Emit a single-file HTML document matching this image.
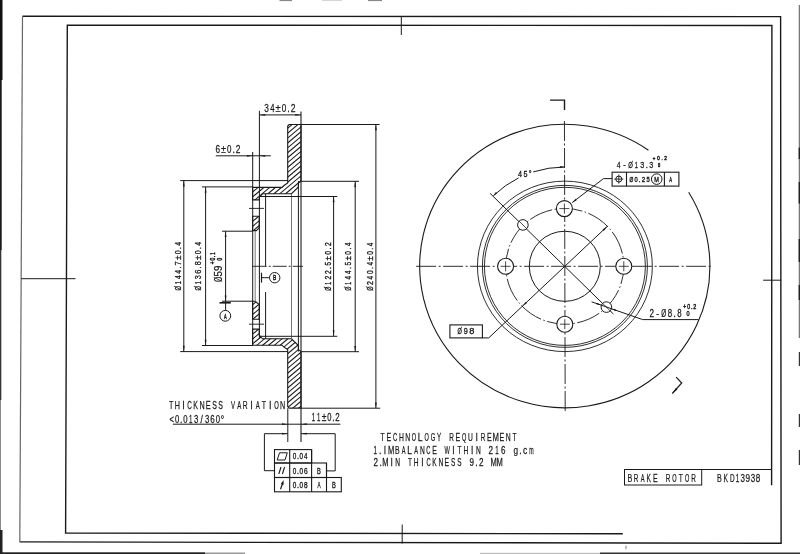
<!DOCTYPE html>
<html><head><meta charset="utf-8"><style>
html,body{margin:0;padding:0;background:#fff;}
svg{display:block;will-change:transform;}
text{font-family:"Liberation Sans",sans-serif;}
</style></head><body>
<svg width="800" height="554" viewBox="0 0 800 554">

<rect width="800" height="554" fill="#fff"/>
<polyline points="22.50,16.30 780.60,16.60 781.10,543.30 19.80,541.90" fill="none" stroke="#1a1a1a" stroke-width="1.4" />
<line x1="19.80" y1="541.90" x2="22.50" y2="16.30" stroke="#666" stroke-width="1.2" />
<polyline points="622.80,533.70 65.60,533.10 67.30,25.10 771.90,25.50 771.60,485.20" fill="none" stroke="#1a1a1a" stroke-width="1.4" />
<line x1="401.30" y1="16.50" x2="401.30" y2="35.00" stroke="#1a1a1a" stroke-width="1.0" />
<line x1="402.20" y1="524.50" x2="402.20" y2="543.50" stroke="#1a1a1a" stroke-width="1.0" />
<line x1="21.20" y1="278.70" x2="75.50" y2="278.70" stroke="#1a1a1a" stroke-width="1.0" />
<line x1="763.20" y1="280.20" x2="781.20" y2="280.20" stroke="#1a1a1a" stroke-width="1.0" />
<rect x="0" y="0" width="2.5" height="80" fill="#111"/>
<rect x="0" y="80" width="1.7" height="170" fill="#1a1a1a"/>
<rect x="0" y="250" width="1.3" height="150" fill="#333"/>
<rect x="0" y="400" width="1.0" height="130" fill="#888"/>
<rect x="0" y="530" width="2.5" height="24" fill="#222"/>
<rect x="0" y="552.3" width="205" height="1.7" fill="#222"/>
<rect x="205" y="552.5" width="40" height="1.5" fill="#999"/>
<rect x="480" y="552.8" width="120" height="1.2" fill="#bbb"/>
<rect x="600" y="552.5" width="200" height="1.5" fill="#333"/>
<rect x="798.8" y="5" width="1.0" height="333" fill="#555"/>
<rect x="798.6" y="147.6" width="1.4" height="11.4" fill="#222"/>
<rect x="798.6" y="182" width="1.4" height="21.6" fill="#222"/>
<rect x="798.6" y="239" width="1.4" height="23" fill="#222"/>
<rect x="798.6" y="285" width="1.4" height="15" fill="#222"/>
<rect x="798.8" y="352" width="1.2" height="14" fill="#333"/>
<rect x="798.8" y="414" width="1.2" height="13" fill="#333"/>
<rect x="798.8" y="450" width="1.2" height="15" fill="#333"/>
<line x1="626.00" y1="545.80" x2="626.00" y2="549.20" stroke="#555" stroke-width="0.8" />
<rect x="279.5" y="0" width="12.5" height="1.1" fill="#888"/>
<rect x="322" y="0" width="20" height="0.8" fill="#ccc"/>
<rect x="368" y="0" width="14" height="1.1" fill="#888"/>
<rect x="624.5" y="469.5" width="77.2" height="15.5" fill="none" stroke="#1a1a1a" stroke-width="1"/>
<line x1="701.70" y1="469.50" x2="771.90" y2="469.50" stroke="#1a1a1a" stroke-width="1.0" />
<g transform="translate(0,481.90)" font-size="11.05" fill="#1a1a1a" stroke="#1a1a1a" stroke-width="0.25"><text transform="translate(629.80,0) scale(0.646,1)" text-anchor="middle">B</text><text transform="translate(636.16,0) scale(0.579,1)" text-anchor="middle">R</text><text transform="translate(642.64,0) scale(0.519,1)" text-anchor="middle">A</text><text transform="translate(648.78,0) scale(0.600,1)" text-anchor="middle">K</text><text transform="translate(655.24,0) scale(0.635,1)" text-anchor="middle">E</text><text transform="translate(668.01,0) scale(0.579,1)" text-anchor="middle">R</text><text transform="translate(674.49,0) scale(0.504,1)" text-anchor="middle">O</text><text transform="translate(680.86,0) scale(0.608,1)" text-anchor="middle">T</text><text transform="translate(687.23,0) scale(0.504,1)" text-anchor="middle">O</text><text transform="translate(693.49,0) scale(0.579,1)" text-anchor="middle">R</text></g>
<g transform="translate(0,481.90)" font-size="11.05" fill="#1a1a1a" stroke="#1a1a1a" stroke-width="0.25"><text transform="translate(719.30,0) scale(0.646,1)" text-anchor="middle">B</text><text transform="translate(725.72,0) scale(0.600,1)" text-anchor="middle">K</text><text transform="translate(732.39,0) scale(0.581,1)" text-anchor="middle">D</text></g>
<g transform="translate(0,481.90)" font-size="11.05" fill="#1a1a1a" stroke="#1a1a1a" stroke-width="0.25"><text transform="translate(737.58,0) scale(0.574,1)" text-anchor="middle">1</text><text transform="translate(742.75,0) scale(0.726,1)" text-anchor="middle">3</text><text transform="translate(747.79,0) scale(0.745,1)" text-anchor="middle">9</text><text transform="translate(752.87,0) scale(0.726,1)" text-anchor="middle">3</text><text transform="translate(757.90,0) scale(0.733,1)" text-anchor="middle">8</text></g>
<g transform="translate(0,441.20)" font-size="11.05" fill="#1a1a1a" stroke="#1a1a1a" stroke-width="0.25"><text transform="translate(382.60,0) scale(0.608,1)" text-anchor="middle">T</text><text transform="translate(388.74,0) scale(0.635,1)" text-anchor="middle">E</text><text transform="translate(395.12,0) scale(0.543,1)" text-anchor="middle">C</text><text transform="translate(401.44,0) scale(0.616,1)" text-anchor="middle">H</text><text transform="translate(407.72,0) scale(0.616,1)" text-anchor="middle">N</text><text transform="translate(414.01,0) scale(0.504,1)" text-anchor="middle">O</text><text transform="translate(420.08,0) scale(0.780,1)" text-anchor="middle">L</text><text transform="translate(426.57,0) scale(0.504,1)" text-anchor="middle">O</text><text transform="translate(432.92,0) scale(0.527,1)" text-anchor="middle">G</text><text transform="translate(439.13,0) scale(0.552,1)" text-anchor="middle">Y</text><text transform="translate(451.58,0) scale(0.579,1)" text-anchor="middle">R</text><text transform="translate(457.83,0) scale(0.635,1)" text-anchor="middle">E</text><text transform="translate(464.25,0) scale(0.504,1)" text-anchor="middle">Q</text><text transform="translate(470.53,0) scale(0.606,1)" text-anchor="middle">U</text><text transform="translate(476.81,0) scale(0.780,1)" text-anchor="middle">I</text><text transform="translate(482.98,0) scale(0.579,1)" text-anchor="middle">R</text><text transform="translate(489.24,0) scale(0.635,1)" text-anchor="middle">E</text><text transform="translate(495.66,0) scale(0.699,1)" text-anchor="middle">M</text><text transform="translate(501.80,0) scale(0.635,1)" text-anchor="middle">E</text><text transform="translate(508.22,0) scale(0.616,1)" text-anchor="middle">N</text><text transform="translate(514.50,0) scale(0.608,1)" text-anchor="middle">T</text></g>
<g transform="translate(0,453.80)" font-size="10.76" fill="#1a1a1a" stroke="#1a1a1a" stroke-width="0.25"><text transform="translate(375.25,0) scale(0.574,1)" text-anchor="middle">1</text><text transform="translate(380.15,0) scale(0.780,1)" text-anchor="middle">.</text><text transform="translate(384.97,0) scale(0.780,1)" text-anchor="middle">I</text><text transform="translate(391.19,0) scale(0.699,1)" text-anchor="middle">M</text><text transform="translate(397.31,0) scale(0.646,1)" text-anchor="middle">B</text><text transform="translate(403.63,0) scale(0.519,1)" text-anchor="middle">A</text><text transform="translate(409.65,0) scale(0.780,1)" text-anchor="middle">L</text><text transform="translate(416.07,0) scale(0.519,1)" text-anchor="middle">A</text><text transform="translate(422.29,0) scale(0.616,1)" text-anchor="middle">N</text><text transform="translate(428.47,0) scale(0.543,1)" text-anchor="middle">C</text><text transform="translate(434.60,0) scale(0.635,1)" text-anchor="middle">E</text><text transform="translate(447.17,0) scale(0.529,1)" text-anchor="middle">W</text><text transform="translate(453.39,0) scale(0.780,1)" text-anchor="middle">I</text><text transform="translate(459.61,0) scale(0.608,1)" text-anchor="middle">T</text><text transform="translate(465.83,0) scale(0.616,1)" text-anchor="middle">H</text><text transform="translate(472.05,0) scale(0.780,1)" text-anchor="middle">I</text><text transform="translate(478.27,0) scale(0.616,1)" text-anchor="middle">N</text><text transform="translate(490.71,0) scale(0.755,1)" text-anchor="middle">2</text><text transform="translate(496.85,0) scale(0.574,1)" text-anchor="middle">1</text><text transform="translate(503.12,0) scale(0.746,1)" text-anchor="middle">6</text><text transform="translate(515.68,0) scale(0.765,1)" text-anchor="middle">g</text><text transform="translate(520.41,0) scale(0.780,1)" text-anchor="middle">.</text><text transform="translate(525.16,0) scale(0.798,1)" text-anchor="middle">c</text><text transform="translate(531.45,0) scale(0.491,1)" text-anchor="middle">m</text></g>
<g transform="translate(0,466.20)" font-size="10.76" fill="#1a1a1a" stroke="#1a1a1a" stroke-width="0.25"><text transform="translate(375.85,0) scale(0.755,1)" text-anchor="middle">2</text><text transform="translate(380.62,0) scale(0.780,1)" text-anchor="middle">.</text><text transform="translate(385.40,0) scale(0.699,1)" text-anchor="middle">M</text><text transform="translate(391.56,0) scale(0.780,1)" text-anchor="middle">I</text><text transform="translate(397.72,0) scale(0.616,1)" text-anchor="middle">N</text><text transform="translate(410.04,0) scale(0.608,1)" text-anchor="middle">T</text><text transform="translate(416.20,0) scale(0.616,1)" text-anchor="middle">H</text><text transform="translate(422.36,0) scale(0.780,1)" text-anchor="middle">I</text><text transform="translate(428.49,0) scale(0.543,1)" text-anchor="middle">C</text><text transform="translate(434.46,0) scale(0.600,1)" text-anchor="middle">K</text><text transform="translate(440.85,0) scale(0.616,1)" text-anchor="middle">N</text><text transform="translate(446.88,0) scale(0.635,1)" text-anchor="middle">E</text><text transform="translate(453.17,0) scale(0.598,1)" text-anchor="middle">S</text><text transform="translate(459.33,0) scale(0.598,1)" text-anchor="middle">S</text><text transform="translate(471.65,0) scale(0.745,1)" text-anchor="middle">9</text><text transform="translate(476.43,0) scale(0.780,1)" text-anchor="middle">.</text><text transform="translate(481.20,0) scale(0.755,1)" text-anchor="middle">2</text><text transform="translate(493.52,0) scale(0.699,1)" text-anchor="middle">M</text><text transform="translate(499.68,0) scale(0.699,1)" text-anchor="middle">M</text></g>
<clipPath id="secclip"><path d="M287.70,126.00 L289.20,124.50 L301.00,124.50 L301.00,181.00 L298.40,183.00 L298.40,187.00 L291.50,193.80 L262.60,193.80 L259.20,197.50 L259.20,199.90 L252.60,199.90 L252.60,187.40 L282.00,187.40 L284.00,185.50 L287.70,183.00 Z M252.60,216.20 L259.20,216.20 L259.20,227.80 L256.40,230.60 L252.60,230.60 Z M287.70,406.60 L289.20,408.10 L301.00,408.10 L301.00,351.60 L298.40,349.60 L298.40,345.60 L291.50,338.80 L262.60,338.80 L259.20,335.00 L259.20,329.10 L252.60,329.10 L252.60,345.20 L282.00,345.20 L284.00,347.10 L287.70,349.60 Z M252.60,301.30 L255.20,301.30 L259.20,304.50 L259.20,319.20 L252.60,319.20 Z"/></clipPath>
<path clip-path="url(#secclip)" d="M245,95.50 L310,40.90 M245,100.40 L310,45.80 M245,105.30 L310,50.70 M245,110.20 L310,55.60 M245,115.10 L310,60.50 M245,120.00 L310,65.40 M245,124.90 L310,70.30 M245,129.80 L310,75.20 M245,134.70 L310,80.10 M245,139.60 L310,85.00 M245,144.50 L310,89.90 M245,149.40 L310,94.80 M245,154.30 L310,99.70 M245,159.20 L310,104.60 M245,164.10 L310,109.50 M245,169.00 L310,114.40 M245,173.90 L310,119.30 M245,178.80 L310,124.20 M245,183.70 L310,129.10 M245,188.60 L310,134.00 M245,193.50 L310,138.90 M245,198.40 L310,143.80 M245,203.30 L310,148.70 M245,208.20 L310,153.60 M245,213.10 L310,158.50 M245,218.00 L310,163.40 M245,222.90 L310,168.30 M245,227.80 L310,173.20 M245,232.70 L310,178.10 M245,237.60 L310,183.00 M245,242.50 L310,187.90 M245,247.40 L310,192.80 M245,252.30 L310,197.70 M245,257.20 L310,202.60 M245,262.10 L310,207.50 M245,267.00 L310,212.40 M245,271.90 L310,217.30 M245,276.80 L310,222.20 M245,281.70 L310,227.10 M245,286.60 L310,232.00 M245,291.50 L310,236.90 M245,296.40 L310,241.80 M245,301.30 L310,246.70 M245,306.20 L310,251.60 M245,311.10 L310,256.50 M245,316.00 L310,261.40 M245,320.90 L310,266.30 M245,325.80 L310,271.20 M245,330.70 L310,276.10 M245,335.60 L310,281.00 M245,340.50 L310,285.90 M245,345.40 L310,290.80 M245,350.30 L310,295.70 M245,355.20 L310,300.60 M245,360.10 L310,305.50 M245,365.00 L310,310.40 M245,369.90 L310,315.30 M245,374.80 L310,320.20 M245,379.70 L310,325.10 M245,384.60 L310,330.00 M245,389.50 L310,334.90 M245,394.40 L310,339.80 M245,399.30 L310,344.70 M245,404.20 L310,349.60 M245,409.10 L310,354.50 M245,414.00 L310,359.40 M245,418.90 L310,364.30 M245,423.80 L310,369.20 M245,428.70 L310,374.10 M245,433.60 L310,379.00 M245,438.50 L310,383.90 M245,443.40 L310,388.80 M245,448.30 L310,393.70 M245,453.20 L310,398.60 M245,458.10 L310,403.50 M245,463.00 L310,408.40 M245,467.90 L310,413.30 M245,472.80 L310,418.20 M245,477.70 L310,423.10 M245,482.60 L310,428.00 M245,487.50 L310,432.90 M245,492.40 L310,437.80 M245,497.30 L310,442.70 M245,502.20 L310,447.60 M245,507.10 L310,452.50" stroke="#1a1a1a" stroke-width="1.05" fill="none"/>
<path d="M287.70,126.00 L289.20,124.50 L301.00,124.50 L301.00,181.00 L298.40,183.00 L298.40,187.00 L291.50,193.80 L262.60,193.80 L259.20,197.50 L259.20,199.90 L252.60,199.90 L252.60,187.40 L282.00,187.40 L284.00,185.50 L287.70,183.00 Z M252.60,216.20 L259.20,216.20 L259.20,227.80 L256.40,230.60 L252.60,230.60 Z M287.70,406.60 L289.20,408.10 L301.00,408.10 L301.00,351.60 L298.40,349.60 L298.40,345.60 L291.50,338.80 L262.60,338.80 L259.20,335.00 L259.20,329.10 L252.60,329.10 L252.60,345.20 L282.00,345.20 L284.00,347.10 L287.70,349.60 Z M252.60,301.30 L255.20,301.30 L259.20,304.50 L259.20,319.20 L252.60,319.20 Z" stroke="#1a1a1a" stroke-width="1.1" fill="none"/>
<line x1="252.70" y1="152.00" x2="252.70" y2="345.50" stroke="#1a1a1a" stroke-width="1.0" />
<line x1="259.40" y1="110.80" x2="259.40" y2="338.50" stroke="#1a1a1a" stroke-width="1.0" />
<line x1="301.00" y1="111.50" x2="301.00" y2="442.00" stroke="#1a1a1a" stroke-width="1.1" />
<line x1="287.80" y1="408.20" x2="287.80" y2="442.00" stroke="#1a1a1a" stroke-width="1.0" />
<line x1="298.40" y1="181.00" x2="298.40" y2="351.60" stroke="#1a1a1a" stroke-width="1.0" />
<line x1="291.50" y1="193.80" x2="291.50" y2="338.80" stroke="#555" stroke-width="0.8" />
<line x1="265.60" y1="193.80" x2="265.60" y2="266.30" stroke="#1a1a1a" stroke-width="1.0" />
<line x1="265.60" y1="292.00" x2="265.60" y2="338.80" stroke="#1a1a1a" stroke-width="1.0" />
<line x1="255.20" y1="231.00" x2="255.20" y2="301.60" stroke="#555" stroke-width="0.8" />
<line x1="259.40" y1="196.50" x2="337.30" y2="196.50" stroke="#1a1a1a" stroke-width="1.0" />
<line x1="259.40" y1="336.30" x2="337.30" y2="336.30" stroke="#1a1a1a" stroke-width="1.0" />
<line x1="252.70" y1="266.30" x2="303.00" y2="266.30" stroke="#1a1a1a" stroke-width="0.9" stroke-dasharray="14 2 2 2"/>
<line x1="249.00" y1="208.40" x2="264.00" y2="208.40" stroke="#1a1a1a" stroke-width="0.9" />
<line x1="249.00" y1="324.20" x2="264.00" y2="324.20" stroke="#1a1a1a" stroke-width="0.9" />
<line x1="259.40" y1="114.90" x2="301.00" y2="114.90" stroke="#1a1a1a" stroke-width="1.0" />
<polygon points="259.40,114.90 265.20,114.00 265.20,115.80" fill="#1a1a1a"/>
<polygon points="301.00,114.90 295.20,115.80 295.20,114.00" fill="#1a1a1a"/>
<g transform="translate(0,112.00)" font-size="11.34" fill="#1a1a1a" stroke="#1a1a1a" stroke-width="0.25"><text transform="translate(266.47,0) scale(0.726,1)" text-anchor="middle">3</text><text transform="translate(272.32,0) scale(0.683,1)" text-anchor="middle">4</text><text transform="translate(278.14,0) scale(0.821,1)" text-anchor="middle">±</text><text transform="translate(283.99,0) scale(0.720,1)" text-anchor="middle">0</text><text transform="translate(288.52,0) scale(0.780,1)" text-anchor="middle">.</text><text transform="translate(293.05,0) scale(0.755,1)" text-anchor="middle">2</text></g>
<line x1="215.80" y1="155.80" x2="270.80" y2="155.80" stroke="#1a1a1a" stroke-width="1.0" />
<polygon points="252.70,155.80 246.90,156.70 246.90,154.90" fill="#1a1a1a"/>
<polygon points="259.40,155.80 265.20,154.90 265.20,156.70" fill="#1a1a1a"/>
<g transform="translate(0,152.60)" font-size="11.05" fill="#1a1a1a" stroke="#1a1a1a" stroke-width="0.25"><text transform="translate(217.67,0) scale(0.746,1)" text-anchor="middle">6</text><text transform="translate(223.44,0) scale(0.821,1)" text-anchor="middle">±</text><text transform="translate(229.19,0) scale(0.720,1)" text-anchor="middle">0</text><text transform="translate(233.65,0) scale(0.780,1)" text-anchor="middle">.</text><text transform="translate(238.10,0) scale(0.755,1)" text-anchor="middle">2</text></g>
<line x1="180.20" y1="180.60" x2="287.80" y2="180.60" stroke="#1a1a1a" stroke-width="1.0" />
<line x1="180.20" y1="351.60" x2="287.80" y2="351.60" stroke="#1a1a1a" stroke-width="1.0" />
<line x1="183.80" y1="180.60" x2="183.80" y2="351.60" stroke="#1a1a1a" stroke-width="1.0" />
<polygon points="183.80,180.60 184.70,186.40 182.90,186.40" fill="#1a1a1a"/>
<polygon points="183.80,351.60 182.90,345.80 184.70,345.80" fill="#1a1a1a"/>
<line x1="202.00" y1="186.90" x2="252.70" y2="186.90" stroke="#1a1a1a" stroke-width="1.0" />
<line x1="202.00" y1="345.50" x2="252.70" y2="345.50" stroke="#1a1a1a" stroke-width="1.0" />
<line x1="205.60" y1="186.90" x2="205.60" y2="345.50" stroke="#1a1a1a" stroke-width="1.0" />
<polygon points="205.60,186.90 206.50,192.70 204.70,192.70" fill="#1a1a1a"/>
<polygon points="205.60,345.50 204.70,339.70 206.50,339.70" fill="#1a1a1a"/>
<line x1="222.00" y1="231.20" x2="252.70" y2="231.20" stroke="#1a1a1a" stroke-width="1.0" />
<line x1="222.00" y1="301.20" x2="252.70" y2="301.20" stroke="#1a1a1a" stroke-width="1.0" />
<line x1="225.60" y1="231.20" x2="225.60" y2="310.30" stroke="#1a1a1a" stroke-width="1.0" />
<polygon points="225.60,231.20 226.50,237.00 224.70,237.00" fill="#1a1a1a"/>
<polygon points="225.60,301.20 224.70,295.40 226.50,295.40" fill="#1a1a1a"/>
<g transform="translate(180.50,290.30) rotate(-90)" font-size="9.88" fill="#1a1a1a" stroke="#1a1a1a" stroke-width="0.2931277501774297"><text transform="translate(2.11,0) scale(0.601,1)" text-anchor="middle">Ø</text><text transform="translate(7.50,0) scale(0.574,1)" text-anchor="middle">1</text><text transform="translate(13.07,0) scale(0.683,1)" text-anchor="middle">4</text><text transform="translate(18.53,0) scale(0.683,1)" text-anchor="middle">4</text><text transform="translate(22.75,0) scale(0.780,1)" text-anchor="middle">.</text><text transform="translate(26.98,0) scale(0.757,1)" text-anchor="middle">7</text><text transform="translate(32.45,0) scale(0.821,1)" text-anchor="middle">±</text><text transform="translate(37.92,0) scale(0.720,1)" text-anchor="middle">0</text><text transform="translate(42.16,0) scale(0.780,1)" text-anchor="middle">.</text><text transform="translate(46.42,0) scale(0.683,1)" text-anchor="middle">4</text></g>
<g transform="translate(201.40,290.30) rotate(-90)" font-size="9.88" fill="#1a1a1a" stroke="#1a1a1a" stroke-width="0.2931277501774297"><text transform="translate(2.11,0) scale(0.601,1)" text-anchor="middle">Ø</text><text transform="translate(7.50,0) scale(0.574,1)" text-anchor="middle">1</text><text transform="translate(13.07,0) scale(0.726,1)" text-anchor="middle">3</text><text transform="translate(18.49,0) scale(0.746,1)" text-anchor="middle">6</text><text transform="translate(22.75,0) scale(0.780,1)" text-anchor="middle">.</text><text transform="translate(26.99,0) scale(0.733,1)" text-anchor="middle">8</text><text transform="translate(32.45,0) scale(0.821,1)" text-anchor="middle">±</text><text transform="translate(37.92,0) scale(0.720,1)" text-anchor="middle">0</text><text transform="translate(42.16,0) scale(0.780,1)" text-anchor="middle">.</text><text transform="translate(46.42,0) scale(0.683,1)" text-anchor="middle">4</text></g>
<g transform="translate(222.00,281.50) rotate(-90)" font-size="10.61" fill="#1a1a1a" stroke="#1a1a1a" stroke-width="0.25"><text transform="translate(2.26,0) scale(0.601,1)" text-anchor="middle">Ø</text><text transform="translate(7.71,0) scale(0.900,1)" text-anchor="middle">5</text><text transform="translate(13.14,0) scale(0.923,1)" text-anchor="middle">9</text></g>
<g transform="translate(214.70,264.00) rotate(-90)" font-size="6.98" fill="#1a1a1a" stroke="#1a1a1a" stroke-width="0.49661958836054115"><text transform="translate(1.20,0) scale(0.708,1)" text-anchor="middle">+</text><text transform="translate(4.82,0) scale(0.720,1)" text-anchor="middle">0</text><text transform="translate(7.63,0) scale(0.780,1)" text-anchor="middle">.</text><text transform="translate(10.38,0) scale(0.574,1)" text-anchor="middle">1</text></g>
<g transform="translate(222.00,260.60) rotate(-90)" font-size="6.69" fill="#1a1a1a" stroke="#1a1a1a" stroke-width="0.5169687721788508"><text transform="translate(1.50,0) scale(0.720,1)" text-anchor="middle">0</text></g>
<circle cx="225.3" cy="315.8" r="5.4" fill="none" stroke="#1a1a1a" stroke-width="1"/>
<line x1="219.50" y1="302.80" x2="230.80" y2="302.80" stroke="#1a1a1a" stroke-width="1.6" />
<g transform="translate(0,318.60)" font-size="7.00" fill="#1a1a1a" stroke="#1a1a1a" stroke-width="0.495"><text transform="translate(225.40,0) scale(0.571,1)" text-anchor="middle">A</text></g>
<line x1="261.50" y1="272.70" x2="261.50" y2="282.60" stroke="#1a1a1a" stroke-width="1.2" />
<line x1="261.50" y1="277.70" x2="269.50" y2="277.70" stroke="#1a1a1a" stroke-width="1.0" />
<circle cx="274.7" cy="277.7" r="5.2" fill="none" stroke="#1a1a1a" stroke-width="1"/>
<g transform="translate(0,280.40)" font-size="7.00" fill="#1a1a1a" stroke="#1a1a1a" stroke-width="0.495"><text transform="translate(274.73,0) scale(0.698,1)" text-anchor="middle">B</text></g>
<line x1="333.60" y1="196.50" x2="333.60" y2="336.10" stroke="#1a1a1a" stroke-width="1.0" />
<polygon points="333.60,196.50 334.50,202.30 332.70,202.30" fill="#1a1a1a"/>
<polygon points="333.60,336.10 332.70,330.30 334.50,330.30" fill="#1a1a1a"/>
<line x1="301.00" y1="181.30" x2="359.00" y2="181.30" stroke="#1a1a1a" stroke-width="1.0" />
<line x1="301.00" y1="351.70" x2="359.00" y2="351.70" stroke="#1a1a1a" stroke-width="1.0" />
<line x1="355.20" y1="181.30" x2="355.20" y2="351.70" stroke="#1a1a1a" stroke-width="1.0" />
<polygon points="355.20,181.30 356.10,187.10 354.30,187.10" fill="#1a1a1a"/>
<polygon points="355.20,351.70 354.30,345.90 356.10,345.90" fill="#1a1a1a"/>
<line x1="301.00" y1="124.50" x2="379.60" y2="124.50" stroke="#1a1a1a" stroke-width="1.0" />
<line x1="301.00" y1="408.20" x2="380.20" y2="408.20" stroke="#1a1a1a" stroke-width="1.0" />
<line x1="375.90" y1="124.50" x2="375.90" y2="408.20" stroke="#1a1a1a" stroke-width="1.0" />
<polygon points="375.90,124.50 376.80,130.30 375.00,130.30" fill="#1a1a1a"/>
<polygon points="375.90,408.20 375.00,402.40 376.80,402.40" fill="#1a1a1a"/>
<g transform="translate(330.50,290.60) rotate(-90)" font-size="8.72" fill="#1a1a1a" stroke="#1a1a1a" stroke-width="0.37452448545067424"><text transform="translate(1.86,0) scale(0.601,1)" text-anchor="middle">Ø</text><text transform="translate(7.28,0) scale(0.574,1)" text-anchor="middle">1</text><text transform="translate(12.83,0) scale(0.755,1)" text-anchor="middle">2</text><text transform="translate(18.32,0) scale(0.755,1)" text-anchor="middle">2</text><text transform="translate(22.57,0) scale(0.780,1)" text-anchor="middle">.</text><text transform="translate(26.83,0) scale(0.726,1)" text-anchor="middle">5</text><text transform="translate(32.31,0) scale(0.821,1)" text-anchor="middle">±</text><text transform="translate(37.80,0) scale(0.720,1)" text-anchor="middle">0</text><text transform="translate(42.05,0) scale(0.780,1)" text-anchor="middle">.</text><text transform="translate(46.30,0) scale(0.755,1)" text-anchor="middle">2</text></g>
<g transform="translate(351.00,290.60) rotate(-90)" font-size="9.01" fill="#1a1a1a" stroke="#1a1a1a" stroke-width="0.3541753016323645"><text transform="translate(1.92,0) scale(0.601,1)" text-anchor="middle">Ø</text><text transform="translate(7.32,0) scale(0.574,1)" text-anchor="middle">1</text><text transform="translate(12.89,0) scale(0.683,1)" text-anchor="middle">4</text><text transform="translate(18.36,0) scale(0.683,1)" text-anchor="middle">4</text><text transform="translate(22.58,0) scale(0.780,1)" text-anchor="middle">.</text><text transform="translate(26.83,0) scale(0.726,1)" text-anchor="middle">5</text><text transform="translate(32.29,0) scale(0.821,1)" text-anchor="middle">±</text><text transform="translate(37.77,0) scale(0.720,1)" text-anchor="middle">0</text><text transform="translate(42.01,0) scale(0.780,1)" text-anchor="middle">.</text><text transform="translate(46.27,0) scale(0.683,1)" text-anchor="middle">4</text></g>
<g transform="translate(372.60,290.60) rotate(-90)" font-size="9.30" fill="#1a1a1a" stroke="#1a1a1a" stroke-width="0.33382611781404903"><text transform="translate(1.98,0) scale(0.601,1)" text-anchor="middle">Ø</text><text transform="translate(7.44,0) scale(0.755,1)" text-anchor="middle">2</text><text transform="translate(12.92,0) scale(0.683,1)" text-anchor="middle">4</text><text transform="translate(18.36,0) scale(0.720,1)" text-anchor="middle">0</text><text transform="translate(22.59,0) scale(0.780,1)" text-anchor="middle">.</text><text transform="translate(26.84,0) scale(0.683,1)" text-anchor="middle">4</text><text transform="translate(32.28,0) scale(0.821,1)" text-anchor="middle">±</text><text transform="translate(37.74,0) scale(0.720,1)" text-anchor="middle">0</text><text transform="translate(41.97,0) scale(0.780,1)" text-anchor="middle">.</text><text transform="translate(46.22,0) scale(0.683,1)" text-anchor="middle">4</text></g>
<g transform="translate(0,408.90)" font-size="11.63" fill="#1a1a1a" stroke="#1a1a1a" stroke-width="0.25"><text transform="translate(171.10,0) scale(0.608,1)" text-anchor="middle">T</text><text transform="translate(177.29,0) scale(0.616,1)" text-anchor="middle">H</text><text transform="translate(183.49,0) scale(0.780,1)" text-anchor="middle">I</text><text transform="translate(189.64,0) scale(0.543,1)" text-anchor="middle">C</text><text transform="translate(195.63,0) scale(0.600,1)" text-anchor="middle">K</text><text transform="translate(202.07,0) scale(0.616,1)" text-anchor="middle">N</text><text transform="translate(208.12,0) scale(0.635,1)" text-anchor="middle">E</text><text transform="translate(214.46,0) scale(0.598,1)" text-anchor="middle">S</text><text transform="translate(220.66,0) scale(0.598,1)" text-anchor="middle">S</text><text transform="translate(233.04,0) scale(0.523,1)" text-anchor="middle">V</text><text transform="translate(239.24,0) scale(0.519,1)" text-anchor="middle">A</text><text transform="translate(245.31,0) scale(0.579,1)" text-anchor="middle">R</text><text transform="translate(251.63,0) scale(0.780,1)" text-anchor="middle">I</text><text transform="translate(257.82,0) scale(0.519,1)" text-anchor="middle">A</text><text transform="translate(264.02,0) scale(0.608,1)" text-anchor="middle">T</text><text transform="translate(270.21,0) scale(0.780,1)" text-anchor="middle">I</text><text transform="translate(276.41,0) scale(0.504,1)" text-anchor="middle">O</text><text transform="translate(282.60,0) scale(0.616,1)" text-anchor="middle">N</text></g>
<g transform="translate(0,422.60)" font-size="10.76" fill="#1a1a1a" stroke="#1a1a1a" stroke-width="0.25"><text transform="translate(171.65,0) scale(0.708,1)" text-anchor="middle">&lt;</text><text transform="translate(177.05,0) scale(0.720,1)" text-anchor="middle">0</text><text transform="translate(181.24,0) scale(0.780,1)" text-anchor="middle">.</text><text transform="translate(185.42,0) scale(0.720,1)" text-anchor="middle">0</text><text transform="translate(190.74,0) scale(0.574,1)" text-anchor="middle">1</text><text transform="translate(196.25,0) scale(0.726,1)" text-anchor="middle">3</text><text transform="translate(201.63,0) scale(0.780,1)" text-anchor="middle">/</text><text transform="translate(207.05,0) scale(0.726,1)" text-anchor="middle">3</text><text transform="translate(212.40,0) scale(0.746,1)" text-anchor="middle">6</text><text transform="translate(217.83,0) scale(0.720,1)" text-anchor="middle">0</text><text transform="translate(222.43,0) scale(0.780,1)" text-anchor="middle">°</text></g>
<line x1="172.90" y1="424.20" x2="340.40" y2="424.20" stroke="#1a1a1a" stroke-width="1.0" />
<polygon points="287.80,424.20 282.00,425.10 282.00,423.30" fill="#1a1a1a"/>
<polygon points="301.00,424.20 306.80,423.30 306.80,425.10" fill="#1a1a1a"/>
<g transform="translate(0,421.20)" font-size="10.47" fill="#1a1a1a" stroke="#1a1a1a" stroke-width="0.25242938254081027"><text transform="translate(313.51,0) scale(0.574,1)" text-anchor="middle">1</text><text transform="translate(318.77,0) scale(0.574,1)" text-anchor="middle">1</text><text transform="translate(324.10,0) scale(0.821,1)" text-anchor="middle">±</text><text transform="translate(329.36,0) scale(0.720,1)" text-anchor="middle">0</text><text transform="translate(333.43,0) scale(0.780,1)" text-anchor="middle">.</text><text transform="translate(337.50,0) scale(0.755,1)" text-anchor="middle">2</text></g>
<line x1="264.40" y1="433.70" x2="287.80" y2="433.70" stroke="#1a1a1a" stroke-width="1.0" />
<polygon points="287.80,433.70 282.00,434.60 282.00,432.80" fill="#1a1a1a"/>
<line x1="301.00" y1="433.70" x2="335.20" y2="433.70" stroke="#1a1a1a" stroke-width="1.0" />
<polygon points="301.00,433.70 306.80,432.80 306.80,434.60" fill="#1a1a1a"/>
<polyline points="264.40,433.70 264.40,470.70 274.50,470.70" fill="none" stroke="#1a1a1a" stroke-width="1.0" />
<polyline points="335.20,433.70 335.20,470.90 326.50,470.90" fill="none" stroke="#1a1a1a" stroke-width="1.0" />
<rect x="274.5" y="449.6" width="37.1" height="13.4" fill="none" stroke="#1a1a1a" stroke-width="1.1"/>
<rect x="274.5" y="463.0" width="52.0" height="14.5" fill="none" stroke="#1a1a1a" stroke-width="1.1"/>
<rect x="274.5" y="477.5" width="66.8" height="14.3" fill="none" stroke="#1a1a1a" stroke-width="1.1"/>
<line x1="289.70" y1="449.60" x2="289.70" y2="491.80" stroke="#1a1a1a" stroke-width="1.1" />
<line x1="311.60" y1="449.60" x2="311.60" y2="491.80" stroke="#1a1a1a" stroke-width="1.1" />
<line x1="326.50" y1="463.00" x2="326.50" y2="491.80" stroke="#1a1a1a" stroke-width="1.1" />
<polygon points="279.50,452.80 287.30,452.80 285.00,460.00 277.20,460.00" fill="none" stroke="#1a1a1a" stroke-width="1.0" />
<line x1="281.00" y1="467.00" x2="278.80" y2="474.00" stroke="#1a1a1a" stroke-width="1.1" />
<line x1="284.60" y1="467.00" x2="282.40" y2="474.00" stroke="#1a1a1a" stroke-width="1.1" />
<line x1="280.50" y1="489.20" x2="282.90" y2="482.50" stroke="#1a1a1a" stroke-width="1.2" />
<polygon points="283.60,480.10 283.49,484.91 280.83,484.03" fill="#1a1a1a"/>
<g transform="translate(0,459.30)" font-size="8.87" fill="#1a1a1a" stroke="#1a1a1a" stroke-width="0.3643498935415165"><text transform="translate(294.42,0) scale(0.720,1)" text-anchor="middle">0</text><text transform="translate(297.87,0) scale(0.780,1)" text-anchor="middle">.</text><text transform="translate(301.32,0) scale(0.720,1)" text-anchor="middle">0</text><text transform="translate(305.79,0) scale(0.683,1)" text-anchor="middle">4</text></g>
<g transform="translate(0,473.70)" font-size="8.87" fill="#1a1a1a" stroke="#1a1a1a" stroke-width="0.36434989354152225"><text transform="translate(294.42,0) scale(0.720,1)" text-anchor="middle">0</text><text transform="translate(297.87,0) scale(0.780,1)" text-anchor="middle">.</text><text transform="translate(301.32,0) scale(0.720,1)" text-anchor="middle">0</text><text transform="translate(305.75,0) scale(0.746,1)" text-anchor="middle">6</text></g>
<g transform="translate(0,488.00)" font-size="8.87" fill="#1a1a1a" stroke="#1a1a1a" stroke-width="0.3643498935415165"><text transform="translate(294.42,0) scale(0.720,1)" text-anchor="middle">0</text><text transform="translate(297.87,0) scale(0.780,1)" text-anchor="middle">.</text><text transform="translate(301.32,0) scale(0.720,1)" text-anchor="middle">0</text><text transform="translate(305.77,0) scale(0.733,1)" text-anchor="middle">8</text></g>
<g transform="translate(0,473.70)" font-size="8.87" fill="#1a1a1a" stroke="#1a1a1a" stroke-width="0.36434989354152225"><text transform="translate(319.02,0) scale(0.646,1)" text-anchor="middle">B</text></g>
<g transform="translate(0,488.00)" font-size="8.87" fill="#1a1a1a" stroke="#1a1a1a" stroke-width="0.3643498935415165"><text transform="translate(319.10,0) scale(0.519,1)" text-anchor="middle">A</text></g>
<g transform="translate(0,488.00)" font-size="8.87" fill="#1a1a1a" stroke="#1a1a1a" stroke-width="0.3643498935415165"><text transform="translate(334.02,0) scale(0.646,1)" text-anchor="middle">B</text></g>
<path d="M688.65,192.20 A145.10,141.75 0 1 1 648.44,150.22" fill="none" stroke="#1a1a1a" stroke-width="1.1" />
<ellipse cx="564.9" cy="266.35" rx="87.45" ry="85.25" fill="none" stroke="#1a1a1a" stroke-width="0.9"/>
<ellipse cx="564.9" cy="266.35" rx="82.5" ry="81.0" fill="none" stroke="#1a1a1a" stroke-width="0.9"/>
<ellipse cx="564.9" cy="266.35" rx="80.45" ry="79.05" fill="none" stroke="#1a1a1a" stroke-width="0.9"/>
<ellipse cx="564.8" cy="266.3" rx="59.0" ry="57.8" fill="none" stroke="#1a1a1a" stroke-width="0.9" stroke-dasharray="24 2.5 1.5 2.5" stroke-dashoffset="6"/>
<ellipse cx="564.8" cy="266.3" rx="35.5" ry="35.05" fill="none" stroke="#1a1a1a" stroke-width="1"/>
<line x1="416.10" y1="266.30" x2="713.00" y2="266.30" stroke="#1a1a1a" stroke-width="0.9" stroke-dasharray="20 2.5 2 2.5"/>
<line x1="564.45" y1="121.00" x2="565.20" y2="411.30" stroke="#1a1a1a" stroke-width="0.9" stroke-dasharray="20 2.5 2 2.5"/>
<circle cx="505.6" cy="266.3" r="8.0" fill="#fff" stroke="#1a1a1a" stroke-width="1.1"/>
<line x1="500.60" y1="266.30" x2="510.60" y2="266.30" stroke="#1a1a1a" stroke-width="0.8" />
<line x1="505.60" y1="261.30" x2="505.60" y2="271.30" stroke="#1a1a1a" stroke-width="0.8" />
<circle cx="623.8" cy="266.3" r="8.0" fill="#fff" stroke="#1a1a1a" stroke-width="1.1"/>
<line x1="618.80" y1="266.30" x2="628.80" y2="266.30" stroke="#1a1a1a" stroke-width="0.8" />
<line x1="623.80" y1="261.30" x2="623.80" y2="271.30" stroke="#1a1a1a" stroke-width="0.8" />
<circle cx="564.4" cy="208.6" r="8.0" fill="#fff" stroke="#1a1a1a" stroke-width="1.1"/>
<line x1="559.40" y1="208.60" x2="569.40" y2="208.60" stroke="#1a1a1a" stroke-width="0.8" />
<line x1="564.40" y1="203.60" x2="564.40" y2="213.60" stroke="#1a1a1a" stroke-width="0.8" />
<circle cx="564.8" cy="324.2" r="8.0" fill="#fff" stroke="#1a1a1a" stroke-width="1.1"/>
<line x1="559.80" y1="324.20" x2="569.80" y2="324.20" stroke="#1a1a1a" stroke-width="0.8" />
<line x1="564.80" y1="319.20" x2="564.80" y2="329.20" stroke="#1a1a1a" stroke-width="0.8" />
<line x1="490.00" y1="193.30" x2="613.40" y2="314.00" stroke="#1a1a1a" stroke-width="1.0" />
<line x1="488.70" y1="337.90" x2="607.35" y2="226.26" stroke="#1a1a1a" stroke-width="1.0" />
<polygon points="522.25,306.30 525.86,301.67 527.09,302.98" fill="#1a1a1a"/>
<polygon points="607.35,226.26 603.74,230.89 602.51,229.58" fill="#1a1a1a"/>
<polyline points="482.40,337.90 488.70,337.90" fill="none" stroke="#1a1a1a" stroke-width="1.0" />
<rect x="449.9" y="324.9" width="32.5" height="13.0" fill="#fff" stroke="#1a1a1a" stroke-width="1.1"/>
<g transform="translate(0,334.40)" font-size="9.30" fill="#1a1a1a" stroke="#1a1a1a" stroke-width="0.33382611781405486"><text transform="translate(459.68,0) scale(0.601,1)" text-anchor="middle">Ø</text><text transform="translate(465.81,0) scale(0.780,1)" text-anchor="middle">9</text><text transform="translate(471.92,0) scale(0.997,1)" text-anchor="middle">8</text></g>
<circle cx="522.9" cy="224.9" r="5.3" fill="#fff" stroke="#1a1a1a" stroke-width="1.0"/>
<circle cx="606.4" cy="307.1" r="5.3" fill="#fff" stroke="#1a1a1a" stroke-width="1.0"/>
<line x1="518.90" y1="220.90" x2="526.90" y2="228.90" stroke="#1a1a1a" stroke-width="0.8" />
<line x1="602.40" y1="303.10" x2="610.40" y2="311.10" stroke="#1a1a1a" stroke-width="0.8" />
<polyline points="591.60,301.80 642.70,319.60 698.50,319.60" fill="none" stroke="#1a1a1a" stroke-width="1.0" />
<polygon points="601.20,305.20 596.66,304.56 597.25,302.86" fill="#1a1a1a"/>
<polygon points="611.60,308.80 616.14,309.44 615.55,311.14" fill="#1a1a1a"/>
<g transform="translate(0,316.50)" font-size="10.76" fill="#1a1a1a" stroke="#1a1a1a" stroke-width="0.25"><text transform="translate(651.65,0) scale(0.755,1)" text-anchor="middle">2</text><text transform="translate(657.74,0) scale(0.780,1)" text-anchor="middle">-</text><text transform="translate(663.82,0) scale(0.601,1)" text-anchor="middle">Ø</text><text transform="translate(669.91,0) scale(0.733,1)" text-anchor="middle">8</text><text transform="translate(674.63,0) scale(0.780,1)" text-anchor="middle">.</text><text transform="translate(679.35,0) scale(0.733,1)" text-anchor="middle">8</text></g>
<g transform="translate(0,309.00)" font-size="7.12" fill="#1a1a1a" stroke="#1a1a1a" stroke-width="0.48644499645138634"><text transform="translate(684.63,0) scale(0.708,1)" text-anchor="middle">+</text><text transform="translate(688.61,0) scale(0.720,1)" text-anchor="middle">0</text><text transform="translate(691.69,0) scale(0.780,1)" text-anchor="middle">.</text><text transform="translate(694.78,0) scale(0.755,1)" text-anchor="middle">2</text></g>
<g transform="translate(0,316.00)" font-size="7.56" fill="#1a1a1a" stroke="#1a1a1a" stroke-width="0.4559212207239189"><text transform="translate(688.10,0) scale(0.720,1)" text-anchor="middle">0</text></g>
<path d="M493.41,195.72 A101.50,99.30 0 0 1 518.56,177.90" fill="none" stroke="#1a1a1a" stroke-width="1.0" />
<path d="M533.27,171.91 A101.50,99.30 0 0 1 564.80,167.00" fill="none" stroke="#1a1a1a" stroke-width="1.0" />
<polygon points="564.80,167.00 559.80,167.90 559.80,166.10" fill="#1a1a1a"/>
<polygon points="493.03,196.08 495.90,191.89 497.18,193.16" fill="#1a1a1a"/>
<g transform="translate(0,176.90)" font-size="9.16" fill="#1a1a1a" stroke="#1a1a1a" stroke-width="0.34400070972320673"><text transform="translate(519.92,0) scale(0.780,1)" text-anchor="middle">4</text><text transform="translate(525.47,0) scale(0.780,1)" text-anchor="middle">5</text><text transform="translate(530.20,0) scale(0.780,1)" text-anchor="middle">°</text></g>
<g transform="translate(0,167.80)" font-size="9.88" fill="#1a1a1a" stroke="#1a1a1a" stroke-width="0.2931277501774297"><text transform="translate(618.72,0) scale(0.683,1)" text-anchor="middle">4</text><text transform="translate(624.57,0) scale(0.780,1)" text-anchor="middle">-</text><text transform="translate(630.44,0) scale(0.601,1)" text-anchor="middle">Ø</text><text transform="translate(636.24,0) scale(0.574,1)" text-anchor="middle">1</text><text transform="translate(642.22,0) scale(0.726,1)" text-anchor="middle">3</text><text transform="translate(646.75,0) scale(0.780,1)" text-anchor="middle">.</text><text transform="translate(651.32,0) scale(0.726,1)" text-anchor="middle">3</text></g>
<g transform="translate(0,160.20)" font-size="6.10" fill="#1a1a1a" stroke="#1a1a1a" stroke-width="0.5576671398154731"><text transform="translate(654.05,0) scale(0.708,1)" text-anchor="middle">+</text><text transform="translate(658.56,0) scale(0.720,1)" text-anchor="middle">0</text><text transform="translate(662.05,0) scale(0.780,1)" text-anchor="middle">.</text><text transform="translate(665.55,0) scale(0.755,1)" text-anchor="middle">2</text></g>
<g transform="translate(0,167.00)" font-size="5.52" fill="#1a1a1a" stroke="#1a1a1a" stroke-width="0.5983655074520926"><text transform="translate(659.20,0) scale(0.720,1)" text-anchor="middle">0</text></g>
<rect x="612.1" y="172.2" width="66.8" height="13.9" fill="#fff" stroke="#1a1a1a" stroke-width="1.1"/>
<line x1="626.50" y1="172.20" x2="626.50" y2="186.10" stroke="#1a1a1a" stroke-width="1.1" />
<line x1="664.40" y1="172.20" x2="664.40" y2="186.10" stroke="#1a1a1a" stroke-width="1.1" />
<circle cx="618.8" cy="179.1" r="3.0" fill="none" stroke="#1a1a1a" stroke-width="1"/>
<line x1="614.30" y1="179.10" x2="623.30" y2="179.10" stroke="#1a1a1a" stroke-width="0.9" />
<line x1="618.80" y1="174.60" x2="618.80" y2="183.60" stroke="#1a1a1a" stroke-width="0.9" />
<g transform="translate(0,182.00)" font-size="7.99" fill="#1a1a1a" stroke="#1a1a1a" stroke-width="0.4253974449964514"><text transform="translate(631.30,0) scale(0.601,1)" text-anchor="middle">Ø</text><text transform="translate(636.04,0) scale(0.720,1)" text-anchor="middle">0</text><text transform="translate(639.72,0) scale(0.780,1)" text-anchor="middle">.</text><text transform="translate(643.39,0) scale(0.755,1)" text-anchor="middle">2</text><text transform="translate(648.13,0) scale(0.726,1)" text-anchor="middle">5</text></g>
<circle cx="656.7" cy="179.1" r="5.3" fill="none" stroke="#1a1a1a" stroke-width="1"/>
<g transform="translate(0,182.00)" font-size="8.00" fill="#1a1a1a" stroke="#1a1a1a" stroke-width="0.42500000000000004"><text transform="translate(656.70,0) scale(0.699,1)" text-anchor="middle">M</text></g>
<g transform="translate(0,182.00)" font-size="7.99" fill="#1a1a1a" stroke="#1a1a1a" stroke-width="0.4253974449964514"><text transform="translate(670.60,0) scale(0.519,1)" text-anchor="middle">A</text></g>
<polyline points="612.10,178.60 603.50,178.60 572.20,202.60" fill="none" stroke="#1a1a1a" stroke-width="1.0" />
<polygon points="572.20,202.60 575.61,198.83 576.71,200.26" fill="#1a1a1a"/>
<polyline points="550.10,100.10 564.50,100.10 564.50,109.90" fill="none" stroke="#1a1a1a" stroke-width="1.4" />
<polyline points="676.20,377.10 681.70,383.00 672.30,393.50" fill="none" stroke="#1a1a1a" stroke-width="1.2" />
<polygon points="672.60,393.20 675.81,388.01 677.44,389.49" fill="#1a1a1a"/>
</svg>
</body></html>
